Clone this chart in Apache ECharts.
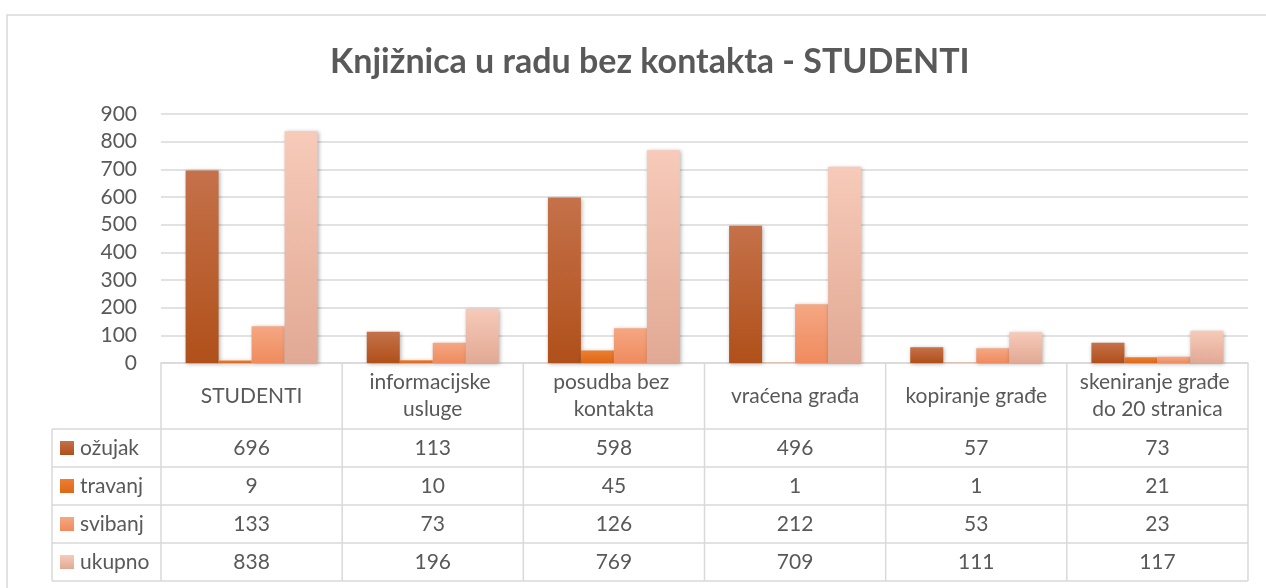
<!DOCTYPE html>
<html>
<head>
<meta charset="utf-8">
<script src="https://cdn.jsdelivr.net/npm/echarts@6/dist/echarts.min.js"></script>
<style>
  html, body { margin: 0; padding: 0; background: #fff; }
  #chart { width: 1266px; height: 588px; }
</style>
</head>
<body>
<div id="chart"></div>
<script>
// podaci
var categories = ['STUDENTI', 'informacijske usluge', 'posudba bez kontakta', 'vraćena građa', 'kopiranje građe', 'skeniranje građe do 20 stranica'];
var seriesNames = ['ožujak', 'travanj', 'svibanj', 'ukupno'];
var ozujak = [696, 113, 598, 496, 57, 73];
var travanj = [9, 10, 45, 1, 1, 21];
var svibanj = [133, 73, 126, 212, 53, 23];
var ukupno = [838, 196, 769, 709, 111, 117];
var yTicks = [0, 100, 200, 300, 400, 500, 600, 700, 800, 900];

var values = [ozujak, travanj, svibanj, ukupno];
var gradients = [
	['#C5714A', '#B0501A'],
	['#EE7E30', '#DE6818'],
	['#F5A783', '#EF8B5E'],
	['#F7CAB9', '#E1A994']
];

var font = 'Lato, "Open Sans", sans-serif';
var textColor = '#595959';
var lineColor = '#D9D9D9';

// raspored tablice
var gridLeft = 161, gridRight = 1248, gridTop = 114, axisY = 363;
var headerBottom = 429, rowH = 38, legendLeft = 52;
var colW = (gridRight - gridLeft) / categories.length;

function grad(c) {
	return new echarts.graphic.LinearGradient(0, 0, 0, 1, [
		{ offset: 0, color: c[0] },
		{ offset: 1, color: c[1] }
	]);
}

var series = seriesNames.map(function (name, i) {
	return {
		name: name,
		type: 'bar',
		data: values[i],
		barWidth: 33,
		barGap: '0%',
		itemStyle: {
			color: grad(gradients[i]),
			shadowBlur: 4,
			shadowColor: 'rgba(0,0,0,0.3)',
			shadowOffsetX: 1,
			shadowOffsetY: 1
		}
	};
});

// tablica s podacima
var graphics = [];
function line(x1, y1, x2, y2) {
	graphics.push({
		type: 'line',
		shape: { x1: x1, y1: y1, x2: x2, y2: y2 },
		style: { stroke: lineColor, lineWidth: 1.5 },
		z: 10
	});
}
// okvir grafikona
graphics.push({
	type: 'rect',
	shape: { x: 7, y: 15, width: 1300, height: 600 },
	style: { fill: null, stroke: lineColor, lineWidth: 1.5 },
	z: 0
});
for (var k = 0; k <= categories.length; k++) {
	line(gridLeft + colW * k, axisY, gridLeft + colW * k, headerBottom + rowH * 4);
}
line(legendLeft, headerBottom, legendLeft, headerBottom + rowH * 4);
for (var r = 0; r <= 4; r++) {
	line(legendLeft, headerBottom + rowH * r, gridRight, headerBottom + rowH * r);
}
seriesNames.forEach(function (name, i) {
	var cy = headerBottom + rowH * i + rowH / 2;
	graphics.push({
		type: 'rect',
		shape: { x: 60, y: cy - 7, width: 14, height: 14 },
		style: { fill: grad(gradients[i]) },
		z: 10
	});
	graphics.push({
		type: 'text',
		x: 80, y: cy,
		style: { text: name, fill: textColor, font: '21px ' + font, verticalAlign: 'middle', align: 'left' },
		z: 10
	});
	values[i].forEach(function (v, j) {
		graphics.push({
			type: 'text',
			x: gridLeft + colW * j + colW / 2, y: cy,
			style: { text: String(v), fill: textColor, font: '21px ' + font, verticalAlign: 'middle', align: 'center' },
			z: 10
		});
	});
});

var myChart = echarts.init(document.getElementById('chart'));
myChart.setOption({
	backgroundColor: '#fff',
	animation: false,
	title: {
		text: 'Knjižnica u radu bez kontakta - STUDENTI',
		left: 325,
		top: 40,
		textStyle: { color: textColor, fontSize: 34, fontWeight: 'bold', fontFamily: font }
	},
	legend: { show: false },
	grid: { left: gridLeft, top: gridTop, right: 1266 - gridRight, bottom: 588 - axisY, containLabel: false },
	xAxis: {
		type: 'category',
		data: categories,
		axisLine: { show: true, lineStyle: { color: lineColor, width: 1.5 } },
		axisTick: { show: false },
		axisLabel: {
			color: textColor,
			fontSize: 21,
			fontFamily: font,
			width: 172,
			overflow: 'break',
			lineHeight: 27,
			margin: 33,
			verticalAlign: 'middle',
			interval: 0
		}
	},
	yAxis: {
		type: 'value',
		min: yTicks[0],
		max: yTicks[yTicks.length - 1],
		interval: 100,
		axisLine: { show: false },
		axisTick: { show: false },
		splitLine: { lineStyle: { color: lineColor, width: 1.5 } },
		axisLabel: { color: textColor, fontSize: 21, fontFamily: font, margin: 24 }
	},
	series: series,
	graphic: graphics
});
</script>
</body>
</html>
